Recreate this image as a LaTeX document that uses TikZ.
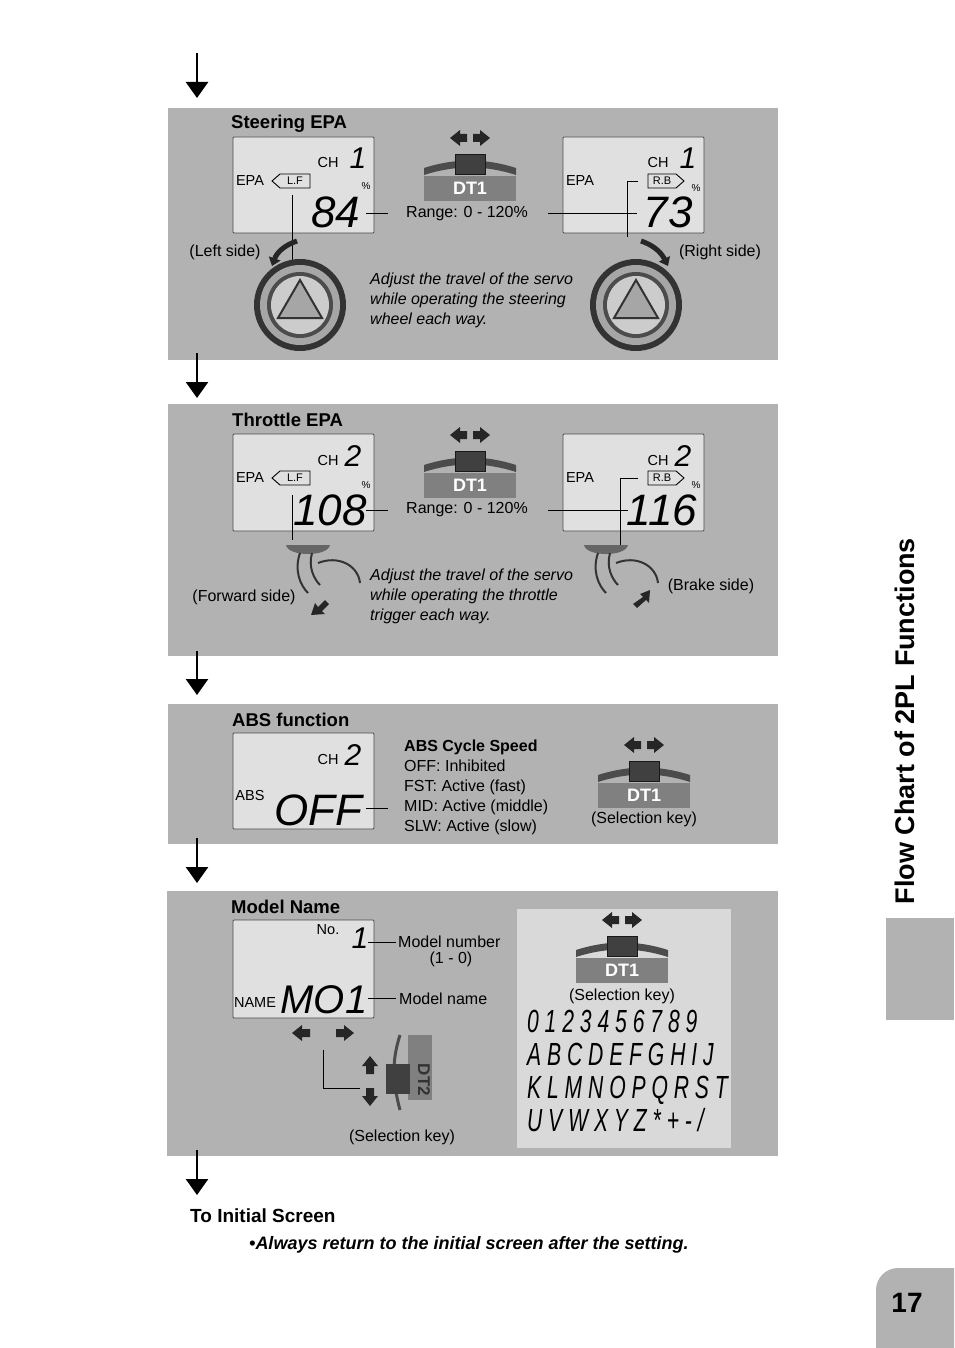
\documentclass[tikz,border=0pt]{standalone}
\usepackage{fontspec}
\setmainfont{Liberation Sans}
\usetikzlibrary{arrows.meta}
\tikzset{
 panel/.style={fill=black!30,draw=none},
 lcd/.style={draw=black!70,fill=black!12,line width=0.8pt,rounded corners=1pt},
 flowarr/.style={line width=2.5pt,-{Triangle[length=16pt,width=22pt]}},
 lbl/.style={font=\fontsize{16}{18}\selectfont,inner sep=1pt},
 ttl/.style={font=\fontsize{18.5}{20}\selectfont\bfseries,inner sep=1pt,anchor=west},
 small/.style={font=\fontsize{14.5}{15}\selectfont,inner sep=0pt},
 seg/.style={font=\fontsize{44}{44}\selectfont\itshape,inner sep=0pt},
 chn/.style={font=\fontsize{30}{30}\selectfont\itshape,inner sep=0pt},
 ital/.style={font=\fontsize{16}{20}\selectfont\itshape,align=left,anchor=west,inner sep=0pt},
 thin/.style={line width=0.9pt},
 pics/dtsw/.style={code={
   \fill[black!50] (-46,8) rectangle (46,33);
   \fill[black!70] (-46,0) .. controls (-15,-10) and (15,-10) .. (46,0) -- (46,7) .. controls (15,-3) and (-15,-3) .. (-46,7) -- cycle;
   \fill[black!75] (-15,-14) rectangle (15,6);
   \draw[black!90,thin] (-15,-14) rectangle (15,6);
   \node[font=\fontsize{18}{18}\selectfont\bfseries,text=white] at (0,20) {#1};
   \fill[black!85] (-20,-30) -- (-10,-38) -- (-10,-34) -- (-3,-34) -- (-3,-26) -- (-10,-26) -- (-10,-22) -- cycle;
   \fill[black!85] (20,-30) -- (10,-38) -- (10,-34) -- (3,-34) -- (3,-26) -- (10,-26) -- (10,-22) -- cycle;
 }},
 pics/wheel/.style={code={
   \fill[black!80] (0,0) circle (46);
   \fill[black!35] (0,0) circle (40);
   \fill[black!70] (0,0) circle (33);
   \fill[black!20] (0,0) circle (29);
   \draw[black!80,line width=2pt,fill=black!35] (0,-25) -- (22,13) -- (-22,13) -- cycle;
 }},
 pics/trig/.style={code={
   \fill[black!60] (-22,0) .. controls (-20,12) and (20,12) .. (22,0) -- cycle;
   \draw[black!80,line width=2pt] (-8,8) .. controls (-14,25) and (-8,40) .. (0,48);
   \draw[black!80,line width=2pt] (4,8) .. controls (0,22) and (6,34) .. (12,40);
   \draw[black!80,line width=2pt] (10,18) .. controls (30,10) and (50,20) .. (52,38);
 }},
}
\begin{document}
\begin{tikzpicture}[x=1pt,y=-1pt]
\useasboundingbox (0,0) rectangle (954,1348);
\fill[white] (0,0) rectangle (954,1348);
% panels
\fill[panel] (168,108) rectangle (778,360);
\fill[panel] (168,404) rectangle (778,656);
\fill[panel] (168,704) rectangle (778,844);
\fill[panel] (167,891) rectangle (778,1156);
\fill[black!15] (517,909) rectangle (731,1148);
% flow arrows
\coordinate (a1) at (197,53); \coordinate (a1e) at (197,98);
\draw[flowarr] (a1) -- (a1e);
\coordinate (a2) at (197,353); \coordinate (a2e) at (197,398);
\draw[flowarr] (a2) -- (a2e);
\coordinate (a3) at (197,651); \coordinate (a3e) at (197,695);
\draw[flowarr] (a3) -- (a3e);
\coordinate (a4) at (197,838); \coordinate (a4e) at (197,883);
\draw[flowarr] (a4) -- (a4e);
\coordinate (a5) at (197,1150); \coordinate (a5e) at (197,1195);
\draw[flowarr] (a5) -- (a5e);
% side tab
\fill[black!30] (886,918) rectangle (954,1020);
\node[rotate=90,font=\fontsize{27}{27}\selectfont\bfseries] (side) at (905,721) {Flow Chart of 2PL Functions};
\fill[black!30] (954,1348) -- (876,1348) -- (876,1290) arc (180:270:22) -- (954,1268) -- cycle;
\node[font=\fontsize{28}{28}\selectfont\bfseries] (pg) at (907,1303) {17};

% ===== Panel 1
\node[ttl] (t1) at (230,124) {Steering EPA};
\draw[lcd] (233,137) rectangle (374,233);
\node[small] at (328,163) {CH};
\node[chn] at (358,158) {1};
\node[small] at (250,181) {EPA};
\draw[thin] (272,181) -- (280,174) -- (310,174) -- (310,188) -- (280,188) -- cycle;
\node[font=\fontsize{11}{11}\selectfont] at (295,181) {L.F};
\node[font=\fontsize{10}{10}\selectfont] at (366,186) {\%};
\node[seg] at (336,212) {84};
\draw[thin] (292,195) -- (292,262);
\draw[thin] (366,213) -- (388,213);
\pic at (470,168) {dtsw=DT1};
\node[lbl] (r1) at (467,214) {Range: 0 - 120\%};
\draw[lcd] (563,137) rectangle (704,233);
\node[small] at (658,163) {CH};
\node[chn] at (688,158) {1};
\node[small] at (580,181) {EPA};
\draw[thin] (648,174) -- (676,174) -- (684,181) -- (676,188) -- (648,188) -- cycle;
\node[font=\fontsize{11}{11}\selectfont] at (662,181) {R.B};
\node[font=\fontsize{10}{10}\selectfont] at (696,188) {\%};
\node[seg] at (668,212) {73};
\draw[thin] (548,213) -- (637,213);
\draw[thin] (638,181) -- (627,181) -- (627,237);
\node[lbl] at (225,252) {(Left side)};
\node[lbl] at (720,252) {(Right side)};
\draw[black!85,line width=5pt,-{Triangle[length=8pt,width=12pt]}] (297,241) .. controls (285,245) and (277,252) .. (272,266);
\draw[black!85,line width=5pt,-{Triangle[length=8pt,width=12pt]}] (641,241) .. controls (653,245) and (661,252) .. (668,266);
\pic at (300,305) {wheel};
\pic at (636,305) {wheel};
\node[ital] at (370,300) {Adjust the travel of the servo\\while operating the steering\\wheel each way.};

% ===== Panel 2
\node[ttl] (t2) at (231,420) {Throttle EPA};
\draw[lcd] (233,434) rectangle (374,531);
\node[small] at (328,461) {CH};
\node[chn] at (353,456) {2};
\node[small] at (250,478) {EPA};
\draw[thin] (272,478) -- (280,471) -- (310,471) -- (310,485) -- (280,485) -- cycle;
\node[font=\fontsize{11}{11}\selectfont] at (295,478) {L.F};
\node[font=\fontsize{10}{10}\selectfont] at (366,485) {\%};
\node[seg] at (330,510) {108};
\draw[thin] (292,495) -- (292,540);
\draw[thin] (366,510) -- (388,510);
\pic at (470,465) {dtsw=DT1};
\node[lbl] (r2) at (467,510) {Range: 0 - 120\%};
\draw[lcd] (563,434) rectangle (704,531);
\node[small] at (658,461) {CH};
\node[chn] at (683,456) {2};
\node[small] at (580,478) {EPA};
\draw[thin] (648,471) -- (676,471) -- (684,478) -- (676,485) -- (648,485) -- cycle;
\node[font=\fontsize{11}{11}\selectfont] at (662,478) {R.B};
\node[font=\fontsize{10}{10}\selectfont] at (696,485) {\%};
\node[seg] at (662,510) {116};
\draw[thin] (548,510) -- (628,510);
\draw[thin] (638,478) -- (620,478) -- (620,545);
\pic at (308,545) {trig};
\pic at (606,545) {trig};
\fill[black!85] (311,615) -- (315,603) -- (318,607) -- (325,600) -- (329,604) -- (322,611) -- (325,614) -- cycle;
\fill[black!85] (650,590) -- (640,594) -- (643,597) -- (633,604) -- (637,608) -- (646,600) -- (649,603) -- cycle;
\node[lbl] at (244,597) {(Forward side)};
\node[lbl] at (711,586) {(Brake side)};
\node[ital] at (370,596) {Adjust the travel of the servo\\while operating the throttle\\trigger each way.};

% ===== Panel 3
\node[ttl] (t3) at (231,720) {ABS function};
\draw[lcd] (233,733) rectangle (374,829);
\node[small] at (328,760) {CH};
\node[chn] at (353,755) {2};
\node[small] at (250,795) {ABS};
\node[seg] at (318,810) {OFF};
\draw[thin] (366,808) -- (388,808);
\node[anchor=north west,inner sep=0pt,align=left,font=\fontsize{16}{20}\selectfont] (abs) at (404,740) {{\bfseries ABS Cycle Speed}\\OFF: Inhibited\\FST: Active (fast)\\MID: Active (middle)\\SLW: Active (slow)};
\pic at (644,775) {dtsw=DT1};
\node[lbl] at (644,819) {(Selection key)};

% ===== Panel 4
\node[ttl] (t4) at (230,907) {Model Name};
\draw[lcd] (233,920) rectangle (374,1018);
\node[small] at (328,930) {No.};
\node[chn] at (360,938) {1};
\node[small] at (255,1002) {NAME};
\node[seg,font=\fontsize{40}{40}\selectfont\itshape] at (324,1000) {MO1};
\draw[thin] (368,942) -- (396,942);
\draw[thin] (368,998) -- (396,998);
\node[lbl,anchor=west] at (397,942) {Model number};
\node[lbl] at (451,959) {(1 - 0)};
\node[lbl,anchor=west] at (398,999) {Model name};
\fill[black!85] (292,1033) -- (302,1025) -- (302,1029) -- (310,1029) -- (310,1037) -- (302,1037) -- (302,1041) -- cycle;
\fill[black!85] (354,1033) -- (344,1025) -- (344,1029) -- (336,1029) -- (336,1037) -- (344,1037) -- (344,1041) -- cycle;
\draw[thin] (323,1050) -- (323,1088) -- (360,1088);
% DT2
\fill[black!50] (408,1035) rectangle (432,1100);
\draw[black!70,line width=3pt] (400,1035) .. controls (392,1060) and (392,1080) .. (400,1110);
\fill[black!75] (386,1064) rectangle (410,1094);
\node[rotate=-90,font=\fontsize{17}{17}\selectfont\bfseries,text=black!80] at (424,1080) {DT2};
\fill[black!85] (370,1056) -- (362,1066) -- (366,1066) -- (366,1074) -- (374,1074) -- (374,1066) -- (378,1066) -- cycle;
\fill[black!85] (370,1106) -- (362,1096) -- (366,1096) -- (366,1088) -- (374,1088) -- (374,1096) -- (378,1096) -- cycle;
\node[lbl] at (402,1137) {(Selection key)};
\pic at (622,950) {dtsw=DT1};
\node[lbl] at (622,996) {(Selection key)};
\node[font=\fontsize{32}{33}\selectfont\itshape,anchor=north west,inner sep=0pt,align=left,xscale=0.66] (chars) at (527,1010) {0 1 2 3 4 5 6 7 8 9\\A B C D E F G H I J\\K L M N O P Q R S T\\U V W X Y Z * + - /};

% bottom
\node[font=\fontsize{19}{20}\selectfont\bfseries,anchor=west,inner sep=0pt] (ti) at (190,1216) {To Initial Screen};
\node[font=\fontsize{18}{20}\selectfont\bfseries\itshape,anchor=west,inner sep=0pt] (note) at (249,1245) {•Always return to the initial screen after the setting.};
\end{tikzpicture}
\end{document}
